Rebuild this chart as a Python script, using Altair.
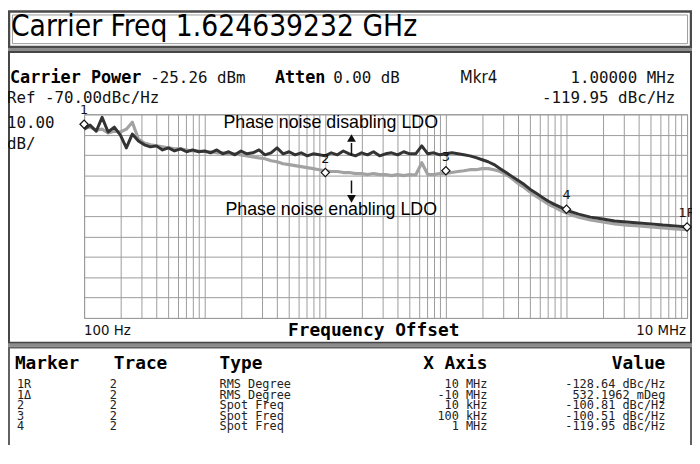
import altair as alt
import pandas as pd

# ---------------- data ----------------
FREQ_HZ = [
    100, 112, 126, 141, 158, 178, 200, 224, 251, 282, 316, 355, 398, 447, 501, 562, 631, 708, 794, 891,
    1000, 1120, 1260, 1410, 1580, 1780, 2000, 2240, 2510, 2820, 3160, 3550, 3980, 4470, 5010, 5620, 6310, 7080, 7940, 8910,
    10000, 11200, 12600, 14100, 15800, 17800, 20000, 22400, 25100, 28200, 31600, 35500, 39800, 44700, 50100, 56200, 63100, 70800, 79400, 89100,
    100000, 112000, 126000, 141000, 158000, 178000, 200000, 224000, 251000, 282000, 316000, 355000, 398000, 447000, 501000, 562000, 631000, 708000, 794000, 891000,
    1000000, 1260000, 1580000, 2000000, 2510000, 3160000, 3980000, 5010000, 6310000, 7940000, 10000000,
]

# Phase noise disabling LDO (dark trace), dBc/Hz
DISABLED_DB = [
    -77.3, -75.3, -78.3, -71.5, -78.7, -76.3, -80.2, -86.5, -79.7, -83.1, -85.0, -86.0, -85.5, -87.5, -86.5, -88.0, -87.0, -88.4, -87.5, -88.4,
    -88.0, -88.9, -87.5, -89.4, -88.4, -89.9, -88.0, -89.4, -88.9, -87.5, -89.9, -88.9, -86.5, -89.4, -88.4, -89.9, -88.9, -90.4, -89.4, -89.9,
    -90.4, -88.9, -89.9, -88.0, -89.4, -90.4, -88.9, -89.9, -88.4, -90.4, -89.4, -88.9, -89.9, -88.4, -89.4, -89.4, -85.5, -89.4, -88.9, -89.9,
    -89.4, -88.9, -89.4, -89.9, -90.4, -91.3, -92.3, -93.3, -94.7, -96.7, -98.6, -100.6, -102.5, -104.5, -106.9, -108.8, -110.8, -112.7, -114.2, -115.6,
    -117.1, -119.0, -120.5, -121.4, -122.4, -122.9, -123.4, -123.8, -124.4, -124.8, -125.3,
]

# Phase noise enabling LDO (grey trace), dBc/Hz
ENABLED_DB = [
    -76.8, -76.3, -77.8, -77.3, -79.2, -78.3, -78.7, -77.3, -73.9, -82.1, -84.1, -85.0, -85.5, -86.0, -86.5, -87.0, -87.0, -87.5, -88.0, -88.0,
    -88.4, -88.4, -88.9, -88.9, -89.4, -89.4, -89.9, -90.4, -90.9, -91.4, -91.8, -92.8, -93.3, -94.3, -94.7, -95.2, -95.7, -96.2, -96.7, -97.2,
    -97.7, -98.1, -98.1, -98.6, -98.6, -99.1, -99.1, -99.6, -99.1, -99.6, -99.6, -100.1, -99.6, -100.1, -99.6, -99.8, -93.8, -99.6, -99.6, -99.1,
    -99.1, -98.6, -98.1, -97.7, -97.2, -97.2, -96.7, -96.7, -97.2, -98.1, -99.6, -101.6, -104.0, -105.9, -108.3, -110.3, -112.2, -114.2, -115.6, -117.1,
    -118.5, -120.5, -121.9, -122.9, -123.8, -124.4, -124.8, -125.3, -125.8, -126.3, -126.7,
]

MARKER_LABELS = ["1", "2", "3", "4", "1R"]
MARKER_FREQ = [100, 10000, 100000, 1000000, 10000000]
MARKER_DB = [-74.9, -98.6, -97.7, -116.6, -125.3]

GRID_DECADES = [100, 1000, 10000, 100000, 1000000]
GRID_MULT = [1, 2, 3, 4, 5, 6, 7, 8, 9]
X_GRID = [m * d for d in GRID_DECADES for m in GRID_MULT] + [10000000]
Y_GRID = [-170, -160, -150, -140, -130, -120, -110, -100, -90, -80, -70]

TABLE_MARKER = ["1R", "1Δ", "2", "3", "4"]
TABLE_TRACE = ["2", "2", "2", "2", "2"]
TABLE_TYPE = ["RMS Degree", "RMS Degree", "Spot Freq", "Spot Freq", "Spot Freq"]
TABLE_XAXIS = ["10 MHz", "-10 MHz", "10 kHz", "100 kHz", "1 MHz"]
TABLE_VALUE = ["-128.64 dBc/Hz", "532.1962 mDeg", "-100.81 dBc/Hz", "-100.51 dBc/Hz", "-119.95 dBc/Hz"]

# ---------------- styling ----------------
MONO = "DejaVu Sans Mono"
COND = "DejaVu Sans Condensed"
SANS = "Liberation Sans"
GRID_C = "#9c9c9c"

x_enc = alt.X(
    "freq:Q",
    scale=alt.Scale(type="log", domain=[100, 10000000], nice=False),
    axis=alt.Axis(values=X_GRID, grid=True, labels=False, ticks=False, domain=False,
                  title=None, gridColor=GRID_C, gridWidth=1, gridOpacity=1),
)
y_enc = alt.Y(
    "db:Q",
    scale=alt.Scale(domain=[-170, -70], nice=False, zero=False),
    axis=alt.Axis(values=Y_GRID, grid=True, labels=False, ticks=False, domain=False,
                  title=None, gridColor=GRID_C, gridWidth=1, gridOpacity=1),
)

one = pd.DataFrame({"k": [0]})


def label(text, x, y, size, font=MONO, weight="normal", align="left", color="#111111", lh=10.6):
    return alt.Chart(pd.DataFrame({"t": [text]})).mark_text(
        align=align, baseline="alphabetic", font=font, fontSize=size, fontWeight=weight,
        color=color, lineBreak="\n", lineHeight=lh,
    ).encode(text="t:N", x=alt.value(x), y=alt.value(y))


def frame(x, x2, y, y2, stroke, sw):
    return alt.Chart(one).mark_rect(fillOpacity=0, stroke=stroke, strokeWidth=sw).encode(
        x=alt.value(x), x2=alt.value(x2), y=alt.value(y), y2=alt.value(y2))


def strip(x, x2, y, y2, fill):
    return alt.Chart(one).mark_rect(fill=fill).encode(
        x=alt.value(x), x2=alt.value(x2), y=alt.value(y), y2=alt.value(y2))


# ---------------- frames ----------------
frames = [
    frame(-76, 614, -104, -68, "#4a4a4a", 2.5),
    frame(-72.5, 610.5, -100.5, -71.5, "#9a9a9a", 1),
    strip(-77, 615, -67, -64, "#8c8c8c"),
    frame(-76, 614, -63, 231, "#454545", 2),
    strip(-77, 615, 232, 235, "#8c8c8c"),
    frame(-76, 614, 236, 336, "#606060", 2),
]

# ---------------- traces ----------------
enabled_df = pd.DataFrame({"freq": FREQ_HZ, "db": ENABLED_DB})
disabled_df = pd.DataFrame({"freq": FREQ_HZ, "db": DISABLED_DB})

enabled = alt.Chart(enabled_df).mark_line(color="#a2a2a2", strokeWidth=3.2, strokeJoin="round").encode(x=x_enc, y=y_enc)
disabled = alt.Chart(disabled_df).mark_line(color="#333333", strokeWidth=3, strokeJoin="round").encode(x=x_enc, y=y_enc)

markers_df = pd.DataFrame({"freq": MARKER_FREQ, "db": MARKER_DB, "label": MARKER_LABELS})
markers = alt.Chart(markers_df).mark_point(
    shape="diamond", filled=True, fill="white", stroke="#111111", strokeWidth=1.2, size=70, opacity=1
).encode(x=x_enc, y=y_enc)
marker_text = alt.Chart(markers_df).mark_text(
    dy=-10, font="DejaVu Sans", fontSize=13, color="#111111", baseline="alphabetic"
).encode(x=x_enc, y=y_enc, text="label:N")

# ---------------- arrows ----------------
arrow_up_head = alt.Chart(one).mark_point(shape="triangle-up", filled=True, color="#111111", size=80, opacity=1).encode(
    x=alt.value(270.5), y=alt.value(24))
arrow_up_stem = alt.Chart(one).mark_rule(color="#111111", strokeWidth=1.5).encode(
    x=alt.value(270.5), y=alt.value(29), y2=alt.value(42))
arrow_dn_head = alt.Chart(one).mark_point(shape="triangle-down", filled=True, color="#111111", size=80, opacity=1).encode(
    x=alt.value(270.5), y=alt.value(85.5))
arrow_dn_stem = alt.Chart(one).mark_rule(color="#111111", strokeWidth=1.5).encode(
    x=alt.value(270.5), y=alt.value(67), y2=alt.value(80))

# ---------------- texts ----------------
texts = [
    label("Carrier Freq 1.624639232 GHz", -74, -79, 30, font=COND, color="#000000"),
    label("Carrier Power", -75, -32, 17, weight="bold", color="#000000"),
    label("-25.26 dBm", 67, -32, 16),
    label("Atten", 193, -32, 17, weight="bold", color="#000000"),
    label("0.00 dB", 252, -32, 16),
    label("Mkr4", 380, -32, 17, font=COND),
    label("1.00000 MHz", 598, -32, 16, align="right"),
    label("Ref -70.00dBc/Hz", -78, -11, 16),
    label("-119.95 dBc/Hz", 598, -11, 16, align="right"),
    label("10.00", -78, 14, 16),
    label("dB/", -78, 35, 16),
    label("Phase noise disabling LDO", 141, 14, 18, font=SANS, color="#000000"),
    label("Phase noise enabling LDO", 143, 102, 18, font=SANS, color="#000000"),
    label("100 Hz", 0, 223, 15, font=COND),
    label("Frequency Offset", 293, 224, 18, weight="bold", align="center", color="#000000"),
    label("10 MHz", 609, 223, 15, font=COND, align="right"),
    label("Marker", -70, 258, 18, weight="bold", color="#000000"),
    label("Trace", 30, 258, 18, weight="bold", color="#000000"),
    label("Type", 137, 258, 18, weight="bold", color="#000000"),
    label("X Axis", 408, 258, 18, weight="bold", align="right", color="#000000"),
    label("Value", 588, 258, 18, weight="bold", align="right", color="#000000"),
    label("\n".join(TABLE_MARKER), -68, 277, 12, color="#222222"),
    label("\n".join(TABLE_TRACE), 26, 277, 12, color="#222222"),
    label("\n".join(TABLE_TYPE), 137, 277, 12, color="#222222"),
    label("\n".join(TABLE_XAXIS), 408, 277, 12, align="right", color="#222222"),
    label("\n".join(TABLE_VALUE), 588, 277, 12, align="right", color="#222222"),
]

chart = alt.layer(
    enabled, disabled, *frames, markers, marker_text,
    arrow_up_head, arrow_up_stem, arrow_dn_head, arrow_dn_stem, *texts,
).properties(
    width=610,
    height=206,
    autosize=alt.AutoSizeParams(type="none"),
    padding={"left": 77, "top": 105, "right": 5, "bottom": 126},
    background="white",
).configure_view(stroke="#909090", strokeWidth=1)

chart.save("out.html", embed_options={"renderer": "svg", "actions": False})
